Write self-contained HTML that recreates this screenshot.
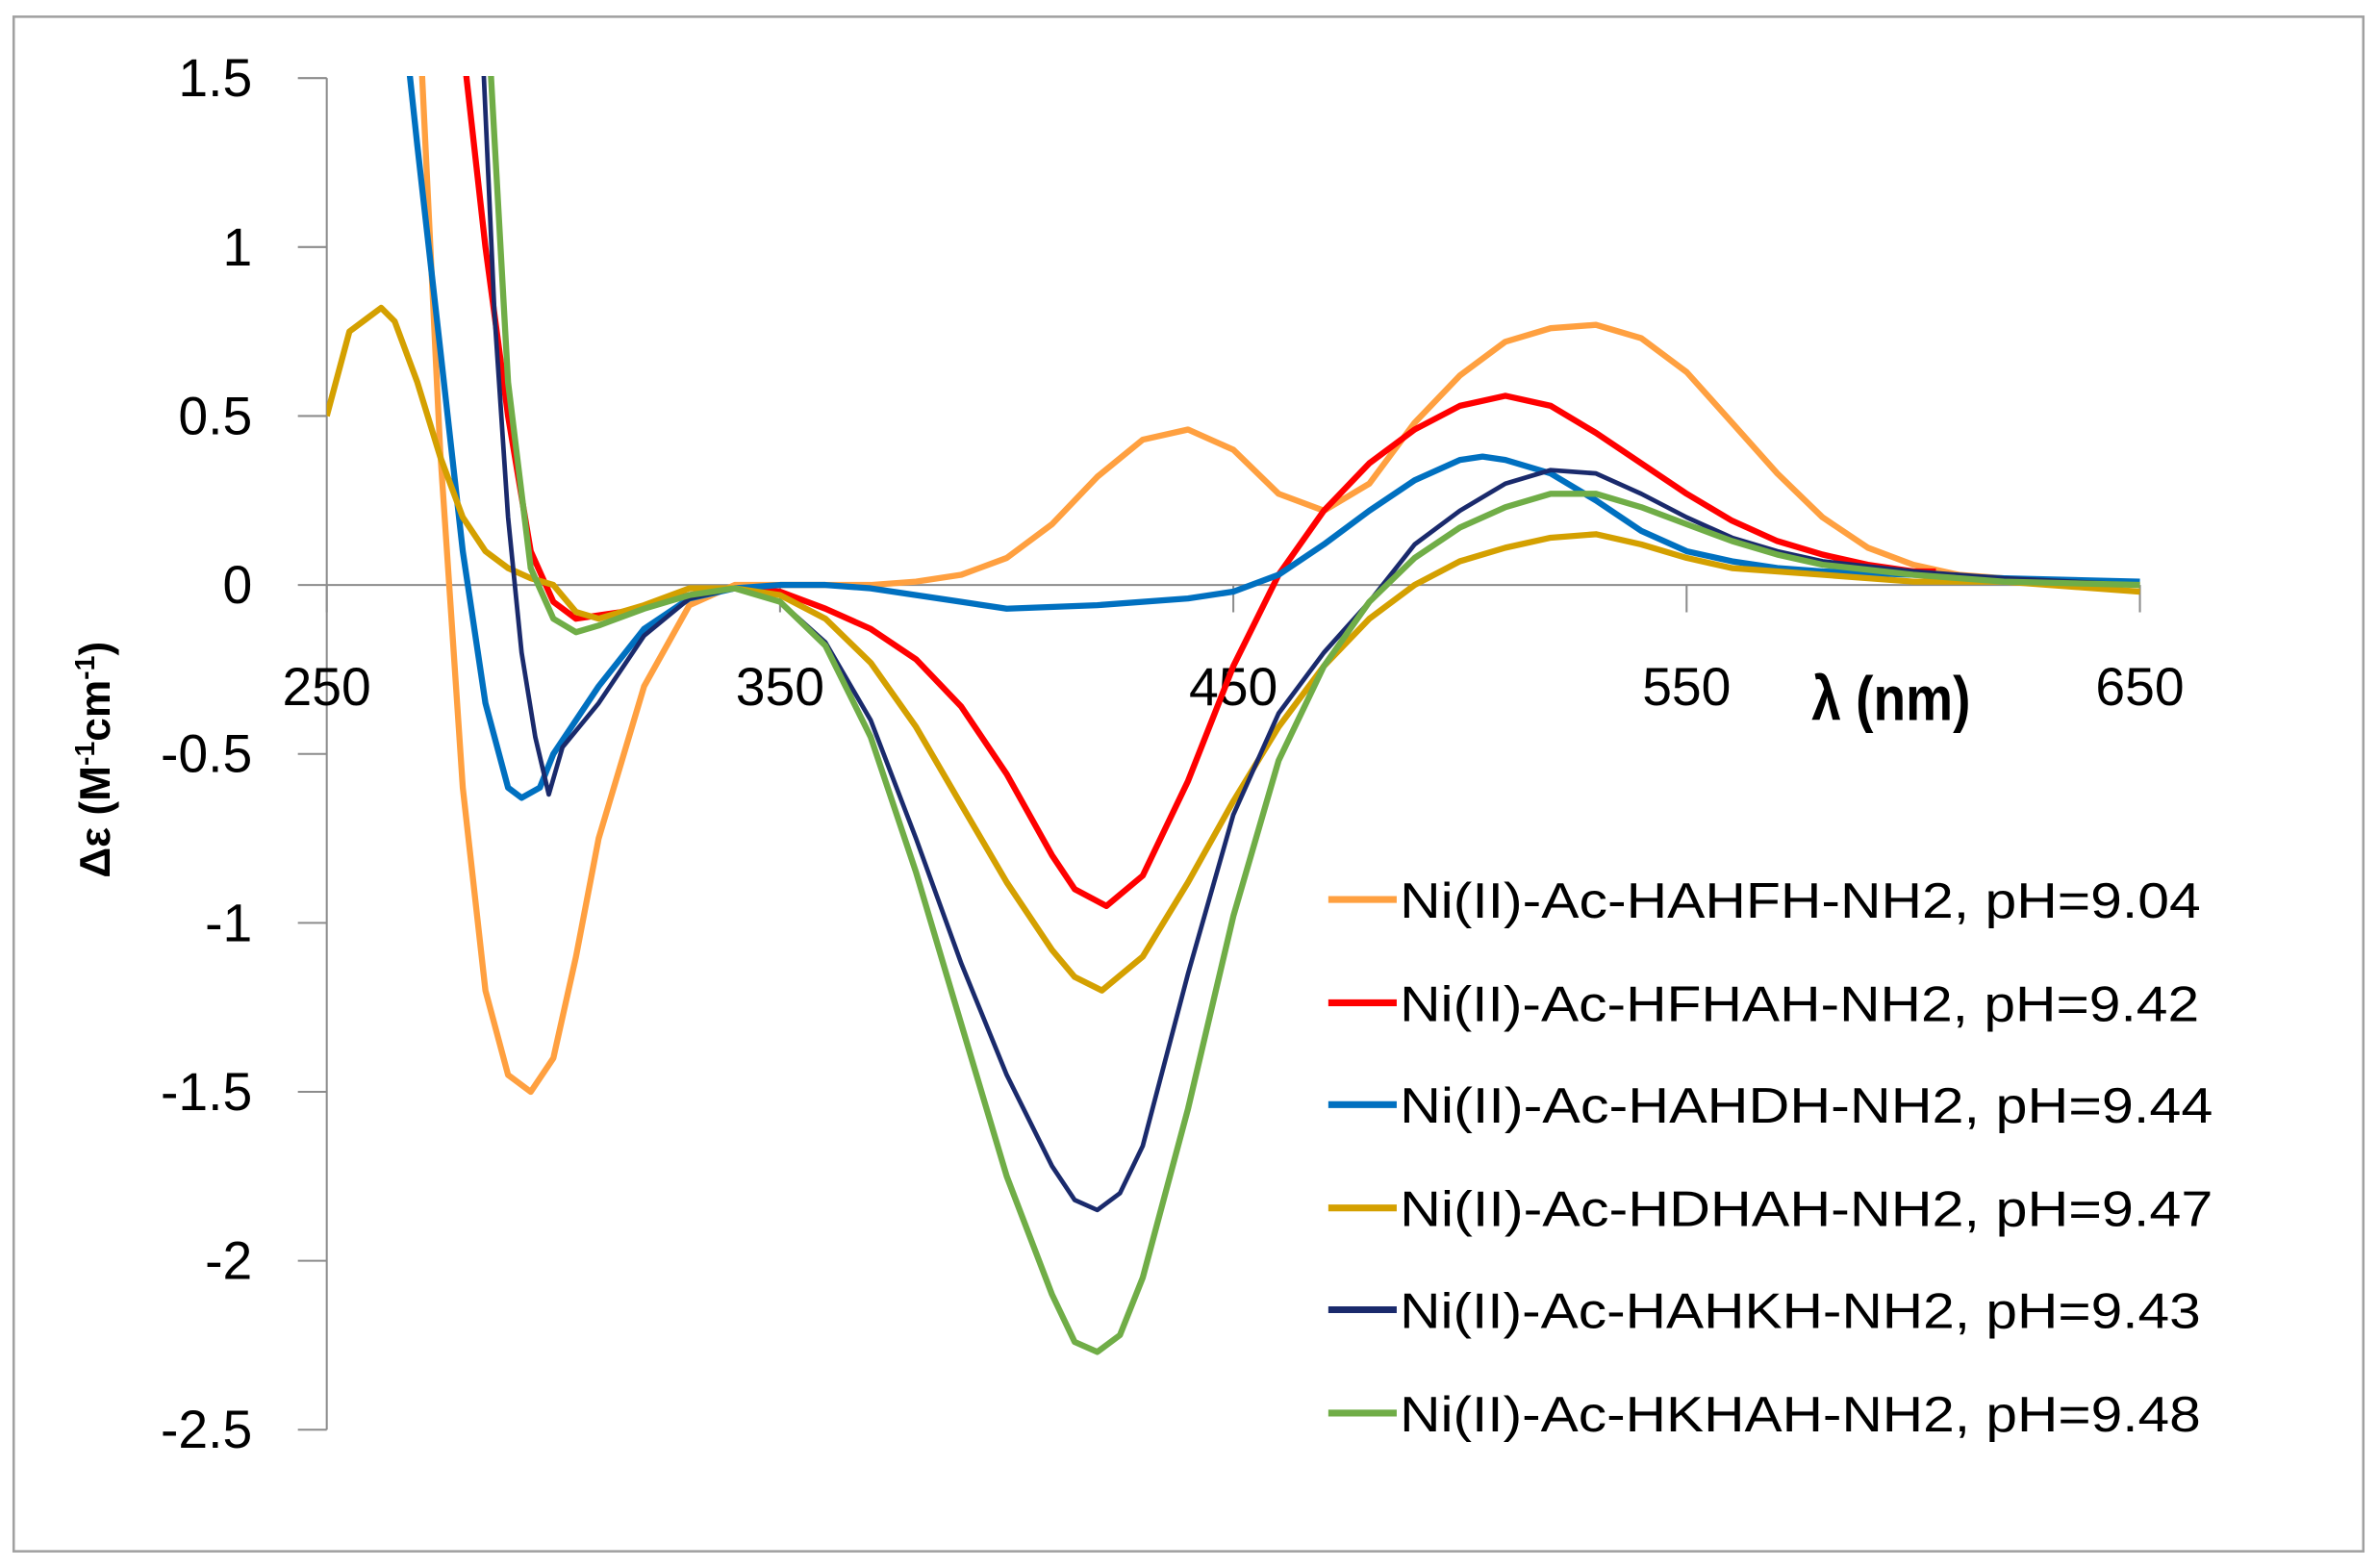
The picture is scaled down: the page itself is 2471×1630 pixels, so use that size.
<!DOCTYPE html>
<html><head><meta charset="utf-8"><style>
html,body{margin:0;padding:0;background:#fff;}
svg{display:block;}
text{font-family:"Liberation Sans",sans-serif;}
</style></head><body>
<svg id="chart" width="2471" height="1630" viewBox="0 0 1564 1032" preserveAspectRatio="none" xmlns="http://www.w3.org/2000/svg">
<rect x="9" y="11" width="1546" height="1010" fill="#fff" stroke="#a0a0a0" stroke-width="1.6"/>
<defs><clipPath id="pc"><rect x="215" y="50" width="1195" height="893"/></clipPath></defs>
<g id="axes"></g>
<g id="series" clip-path="url(#pc)"></g>
<g id="legend"></g>
<text x="1192" y="474" font-size="41" font-weight="bold" fill="#000" transform="translate(1192 474) scale(0.85 1) translate(-1192 -474)">λ (nm)</text>
<text transform="translate(72 500) rotate(-90)" text-anchor="middle" font-size="28" font-weight="bold" fill="#000">Δε (M<tspan dy="-10" font-size="18">-1</tspan><tspan dy="10">cm</tspan><tspan dy="-10" font-size="18">-1</tspan><tspan dy="10">)</tspan></text>
</svg>
<script>
const xTicks = [250, 350, 450, 550, 650];
const yTicks = [1.5, 1, 0.5, 0, -0.5, -1, -1.5, -2, -2.5];
const seriesNames = ["Ni(II)-Ac-HAHFH-NH2, pH=9.04","Ni(II)-Ac-HFHAH-NH2, pH=9.42","Ni(II)-Ac-HAHDH-NH2, pH=9.44","Ni(II)-Ac-HDHAH-NH2, pH=9.47","Ni(II)-Ac-HAHKH-NH2, pH=9.43","Ni(II)-Ac-HKHAH-NH2, pH=9.48"];
const seriesColors = ["#FFA040","#FF0000","#0070C0","#D4A000","#1A2A6C","#70AD47"];
const orangeX = [265,270,275,280,285,290,295,300,305,310,320,330,340,350,360,370,380,390,400,410,420,430,440,450,460,470,480,490,500,510,520,530,540,550,560,570,580,590,600,610,620,630,640,650];
const orangeY = [4,1.8,0.4,-0.6,-1.2,-1.45,-1.5,-1.4,-1.1,-0.75,-0.3,-0.06,0,0,0,0,0.01,0.03,0.08,0.18,0.32,0.43,0.46,0.4,0.27,0.22,0.3,0.48,0.62,0.72,0.76,0.77,0.73,0.63,0.48,0.33,0.2,0.11,0.06,0.03,0.02,0.01,0.01,0];
const redX = [277,280,285,290,295,300,305,315,330,340,350,360,370,380,390,400,410,415,422,430,440,450,460,470,480,490,500,510,520,530,540,550,560,570,580,590,600,605];
const redY = [2.2,1.6,1.0,0.5,0.1,-0.05,-0.1,-0.08,-0.03,-0.01,-0.02,-0.07,-0.13,-0.22,-0.36,-0.56,-0.8,-0.9,-0.95,-0.86,-0.58,-0.24,0.03,0.22,0.36,0.46,0.53,0.56,0.53,0.45,0.36,0.27,0.19,0.13,0.09,0.06,0.04,0.04];
const blueX = [266,270,275,280,285,290,293,297,300,310,320,330,340,350,360,370,380,390,400,420,440,450,460,470,480,490,500,505,510,520,530,540,550,560,570,580,600,620,650];
const blueY = [1.8,1.3,0.7,0.1,-0.35,-0.6,-0.63,-0.6,-0.5,-0.3,-0.13,-0.04,-0.01,0,0,-0.01,-0.03,-0.05,-0.07,-0.06,-0.04,-0.02,0.03,0.12,0.22,0.31,0.37,0.38,0.37,0.33,0.25,0.16,0.1,0.07,0.05,0.04,0.03,0.02,0.01];
const goldX = [250,255,262,265,270,275,280,285,290,295,300,305,310,320,330,340,350,360,370,380,390,400,410,415,421,430,440,450,460,470,480,490,500,510,520,530,540,550,560,580,600,620,650];
const goldY = [0.5,0.75,0.82,0.78,0.6,0.38,0.2,0.1,0.05,0.02,0,-0.08,-0.1,-0.06,-0.01,-0.01,-0.03,-0.1,-0.23,-0.42,-0.65,-0.88,-1.08,-1.16,-1.2,-1.1,-0.88,-0.64,-0.42,-0.24,-0.1,0,0.07,0.11,0.14,0.15,0.12,0.08,0.05,0.03,0.01,0.01,-0.02];
const navyX = [283,287,290,293,296,299,302,310,320,330,340,350,360,370,380,390,400,410,415,420,425,430,440,450,460,470,480,490,500,510,520,530,540,550,560,570,580,600,620,650];
const navyY = [2.0,0.8,0.2,-0.2,-0.45,-0.62,-0.48,-0.35,-0.15,-0.04,-0.01,-0.05,-0.17,-0.4,-0.75,-1.12,-1.45,-1.72,-1.82,-1.85,-1.8,-1.66,-1.15,-0.68,-0.38,-0.2,-0.05,0.12,0.22,0.3,0.34,0.33,0.27,0.2,0.14,0.1,0.07,0.04,0.02,0];
const greenX = [285,290,295,300,305,310,320,330,340,350,360,370,380,390,400,410,415,420,425,430,440,450,460,470,480,490,500,510,520,530,540,550,560,570,580,600,620,650];
const greenY = [1.8,0.6,0.05,-0.1,-0.14,-0.12,-0.07,-0.03,-0.01,-0.05,-0.18,-0.45,-0.85,-1.3,-1.75,-2.1,-2.24,-2.27,-2.22,-2.05,-1.55,-0.98,-0.52,-0.24,-0.05,0.08,0.17,0.23,0.27,0.27,0.23,0.18,0.13,0.09,0.06,0.03,0.01,0];
const allX = [orangeX, redX, blueX, goldX, navyX, greenX];
const allY = [orangeY, redY, blueY, goldY, navyY, greenY];
const seriesKeys = ["hahfh","hfhah","hahdh","hdhah","hahkh","hkhah"];

const NS = "http://www.w3.org/2000/svg";
function sx(v){ return 215 + (v - 250) * (1408 - 215) / 400; }
function sy(v){ return 385 - v * (941 - 385) / 2.5; }
function mk(tag, attrs, parent){ const e = document.createElementNS(NS, tag); for (const k in attrs) e.setAttribute(k, attrs[k]); parent.appendChild(e); return e; }

const axes = document.getElementById('axes');
const yAxis = mk('line', {x1:215, y1:sy(1.5), x2:215, y2:sy(-2.5), stroke:'#8c8c8c', 'stroke-width':1.3}, axes);


const xAxis = mk('line', {x1:215, y1:sy(0), x2:1408, y2:sy(0), stroke:'#8c8c8c', 'stroke-width':1.3}, axes);


yTicks.forEach(v => {
  const t = mk('line', {x1:196, y1:sy(v), x2:215, y2:sy(v), stroke:'#8c8c8c', 'stroke-width':1.3}, axes);
  
  
  const l = mk('text', {x:166, y:sy(v) + 12, 'text-anchor':'end', 'font-size':35, fill:'#000'}, axes);
  l.textContent = String(v);
  
  
});
xTicks.forEach(v => {
  const t = mk('line', {x1:sx(v), y1:sy(0), x2:sx(v), y2:sy(0) + 18, stroke:'#8c8c8c', 'stroke-width':1.3}, axes);
  
  
  const l = mk('text', {x:sx(v), y:464, 'text-anchor':'middle', 'font-size':35, fill:'#000'}, axes);
  l.textContent = String(v);
  
  
});

const sg = document.getElementById('series');
allX.forEach((xs, i) => {
  const d = xs.map((x, j) => (j ? 'L' : 'M') + sx(x).toFixed(1) + ' ' + sy(allY[i][j]).toFixed(1)).join(' ');
  const p = mk('path', {d:d, fill:'none', stroke:seriesColors[i], 'stroke-width': (i === 4 ? 3 : 4), 'stroke-linejoin':'round'}, sg);
  
  
});

const lg = document.getElementById('legend');
const legendRows = [592, 660, 727, 795, 862, 930];
seriesNames.forEach((n, i) => {
  const y = legendRows[i];
  const ln = mk('line', {x1:874, y1:y, x2:919, y2:y, stroke:seriesColors[i], 'stroke-width':4.5}, lg);
  
  
  const t = mk('text', {x:921, y:y + 12, 'font-size':33, fill:'#000', textLength:(i===2||i===3)?535:(i===1?526:527), lengthAdjust:'spacingAndGlyphs'}, lg);
  t.textContent = n;
  
  
});
</script>
</body></html>
